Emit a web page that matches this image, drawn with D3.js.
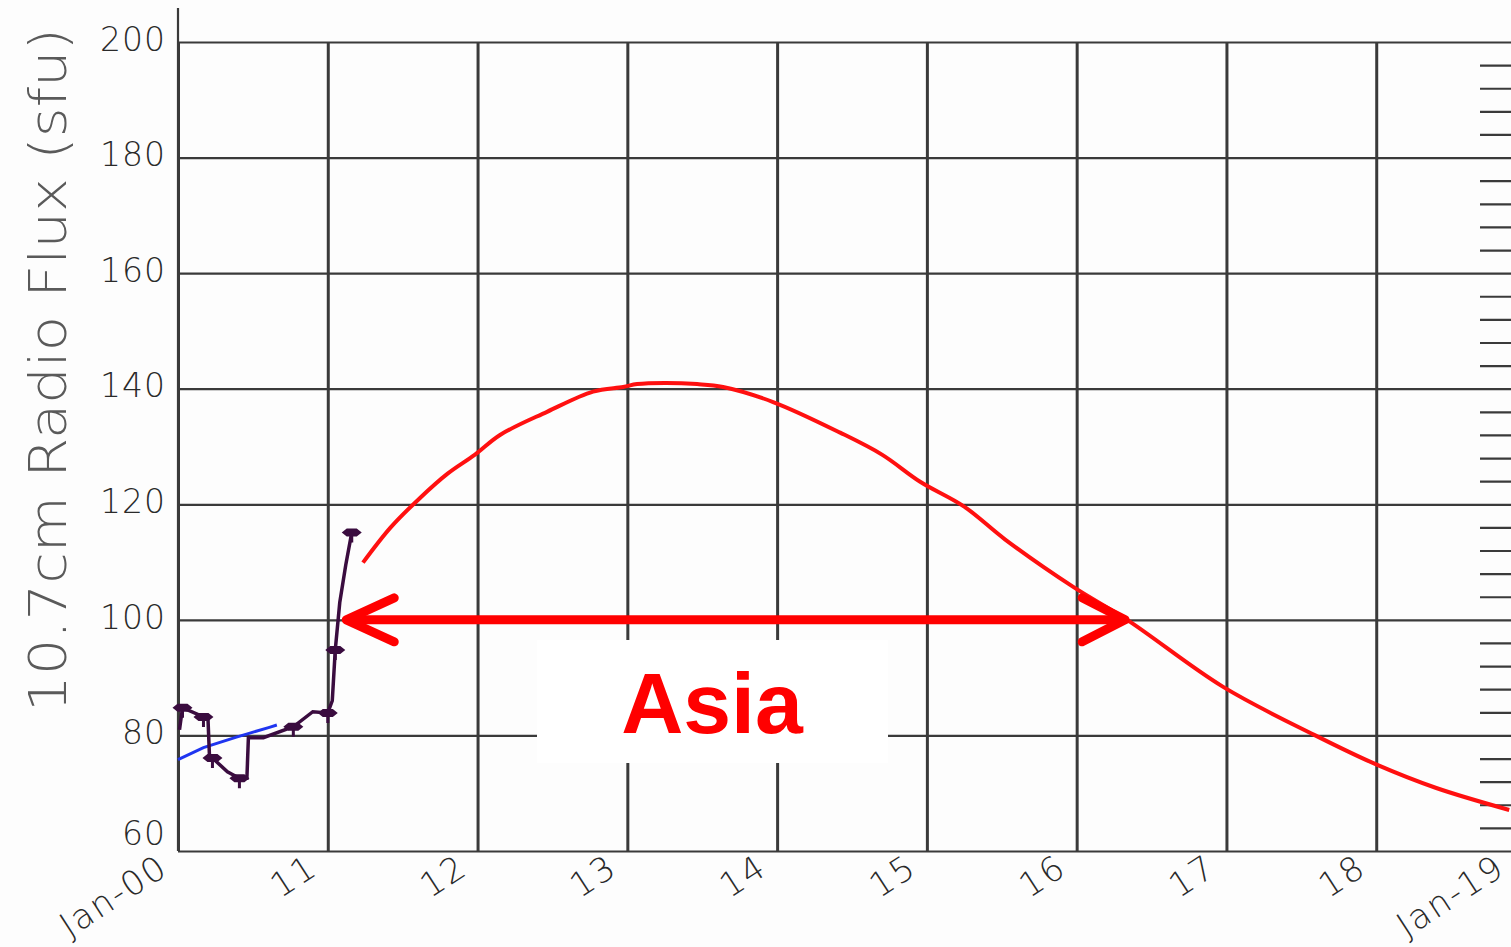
<!DOCTYPE html>
<html>
<head>
<meta charset="utf-8">
<script src="https://cdn.jsdelivr.net/npm/d3@7/dist/d3.min.js"></script>
<style>
  html, body { margin: 0; padding: 0; background: #fdfdfd; overflow: hidden; }
  svg { display: block; }
  .tick-label { font-family: "DejaVu Sans", sans-serif; font-weight: 200; fill: #2a2a2a; }
</style>
</head>
<body>
<svg id="chart" width="1511" height="947"></svg>
<script>
// ---- data ----
const dayTicks = [10, 11, 12, 13, 14, 15, 16, 17, 18, 19];
const dayLabels = ["Jan-00", "11", "12", "13", "14", "15", "16", "17", "18", "Jan-19"];
const fluxTicks = [60, 80, 100, 120, 140, 160, 180, 200];
const minorFluxTicks = [64, 68, 72, 76, 84, 88, 92, 96, 104, 108, 112, 116, 124, 128, 132, 136, 144, 148, 152, 156, 164, 168, 172, 176, 184, 188, 192, 196];

const blueDays = [10.0, 10.17, 10.39, 10.48, 10.61, 10.66];
const blueFlux = [75.8, 77.9, 79.7, 80.4, 81.4, 81.8];

const purpleDays = [10.01, 10.03, 10.17, 10.20, 10.21, 10.23, 10.33, 10.41, 10.46, 10.47, 10.57, 10.77, 10.90, 11.00, 11.03, 11.05, 11.08, 11.12, 11.16];
const purpleFlux = [81.0, 84.8, 83.2, 83.0, 76.5, 76.1, 73.7, 72.6, 72.6, 79.6, 79.6, 81.5, 84.1, 83.9, 86.0, 94.8, 103.0, 109.5, 115.1];
const purpleMarkerDays = [10.03, 10.17, 10.23, 10.41, 10.77, 11.00, 11.05, 11.16];
const purpleMarkerFlux = [84.8, 83.2, 76.1, 72.6, 81.5, 83.9, 94.8, 115.1];

const redDays = [11.235, 11.42, 11.616, 11.80, 11.983, 12.15, 12.464, 12.771, 12.972, 13.065, 13.25, 13.466, 13.639, 13.973, 14.421, 14.70, 14.955, 15.249, 15.523, 15.977, 16.337, 16.978, 17.586, 18.007, 18.401, 18.888];
const redFlux = [109.9, 116.0, 121.1, 125.3, 128.6, 132.0, 136.0, 139.5, 140.3, 140.8, 141.0, 140.8, 140.3, 137.7, 132.4, 128.6, 123.9, 119.6, 113.9, 105.7, 100.0, 88.4, 80.1, 74.9, 70.9, 67.1];

const arrowFlux = 100;
const arrowStartDay = 11.11;
const arrowEndDay = 16.337;
const annotationText = "Asia";
const yAxisTitle = "10.7cm Radio Flux (sfu)";

// ---- scales ----
const W = 1511, H = 947;
const svg = d3.select("#chart");
const x = d3.scaleLinear().domain([10, 19]).range([178, 1526]);
const y = d3.scaleLinear().domain([60, 200]).range([851, 42]);

svg.append("rect").attr("width", W).attr("height", H).attr("fill", "#fdfdfd");

// horizontal grid
const hGrid = svg.append("g").attr("transform", `translate(${x(10)},0)`)
  .call(d3.axisRight(y).tickValues(fluxTicks).tickSize(x(19) - x(10)).tickFormat(""));
hGrid.select(".domain").remove();
hGrid.selectAll(".tick line").attr("stroke", "#3a3a3a").attr("stroke-width", 2.2);

// vertical grid
const vGrid = svg.append("g").attr("transform", `translate(0,${y(200)})`)
  .call(d3.axisBottom(x).tickValues(dayTicks).tickSize(y(60) - y(200)).tickFormat(""));
vGrid.select(".domain").remove();
vGrid.selectAll(".tick line").attr("stroke", "#3a3a3a").attr("stroke-width", 3);

// left axis line (extends above top)
svg.append("line").attr("x1", x(10)).attr("x2", x(10)).attr("y1", 8).attr("y2", y(60))
  .attr("stroke", "#3a3a3a").attr("stroke-width", 2.2);

// right minor ticks
const rAxis = svg.append("g").attr("transform", `translate(${x(19)},0)`)
  .call(d3.axisLeft(y).tickValues(minorFluxTicks).tickSize(46).tickFormat(""));
rAxis.select(".domain").remove();
rAxis.selectAll(".tick line").attr("stroke", "#3a3a3a").attr("stroke-width", 2.2);

// y tick labels
const yLab = svg.append("g").attr("transform", `translate(${x(10)},0)`)
  .call(d3.axisLeft(y).tickValues(fluxTicks).tickSize(0).tickPadding(12));
yLab.select(".domain").remove();
yLab.selectAll(".tick text")
  .attr("class", "tick-label")
  .attr("font-size", 33)
  .attr("letter-spacing", 1)
  .attr("dy", d => d === 60 ? "-0.2em" : "0.25em");

// x tick labels (rotated)
const xLab = svg.append("g");
xLab.selectAll("text").data(dayTicks).join("text")
  .attr("class", "tick-label")
  .attr("font-size", 34)
  .attr("letter-spacing", 2)
  .attr("text-anchor", "end")
  .attr("transform", d => `translate(${Math.min(x(d) - 8, W - 4)},${y(60) + 22}) rotate(-33)`)
  .text((d, i) => dayLabels[i]);

// y axis title
svg.append("text")
  .attr("transform", `translate(66,${370}) rotate(-90)`)
  .attr("text-anchor", "middle")
  .attr("font-family", "DejaVu Sans, sans-serif")
  .attr("font-weight", 200)
  .attr("font-size", 52)
  .attr("fill", "#5a5a5a")
  .attr("textLength", 684)
  .attr("lengthAdjust", "spacingAndGlyphs")
  .text(yAxisTitle);

// white annotation box
svg.append("rect")
  .attr("x", 537).attr("y", 640).attr("width", 351).attr("height", 123)
  .attr("fill", "#ffffff");

// lines
const line = d3.line().x(d => x(d[0])).y(d => y(d[1]));

svg.append("path")
  .datum(blueDays.map((d, i) => [d, blueFlux[i]]))
  .attr("d", line)
  .attr("fill", "none").attr("stroke", "#1f35f0").attr("stroke-width", 3);

svg.append("path")
  .datum(purpleDays.map((d, i) => [d, purpleFlux[i]]))
  .attr("d", line)
  .attr("fill", "none").attr("stroke", "#3a0c3f").attr("stroke-width", 3.5);

svg.append("g").selectAll("path").data(purpleMarkerDays.map((d, i) => [d, purpleMarkerFlux[i]])).join("path")
  .attr("transform", d => `translate(${x(d[0])},${y(d[1])})`)
  .attr("d", "M-10,0 L-5,-4 L5,-4 L10,0 L5,4 L-5,4 Z M-1.5,0 L1.5,0 L1.5,10 L-1.5,10 Z")
  .attr("fill", "#3a0c3f");

svg.append("path")
  .datum(redDays.map((d, i) => [d, redFlux[i]]))
  .attr("d", d3.line().x(d => x(d[0])).y(d => y(d[1])).curve(d3.curveCatmullRom))
  .attr("fill", "none").attr("stroke", "#ff1010").attr("stroke-width", 4);

// double arrow
const ay = y(arrowFlux), ax1 = x(arrowStartDay), ax2 = x(arrowEndDay);
const arrow = svg.append("g").attr("stroke", "#ff0000").attr("stroke-width", 9)
  .attr("stroke-linecap", "round").attr("stroke-linejoin", "round").attr("fill", "none");
arrow.append("line").attr("x1", ax1 + 4).attr("x2", ax2 - 4).attr("y1", ay).attr("y2", ay);
arrow.append("path").attr("d", `M${ax1 + 50},${ay - 22} L${ax1 + 2},${ay} L${ax1 + 50},${ay + 22}`);
arrow.append("path").attr("d", `M${ax2 - 45},${ay - 22} L${ax2 - 2},${ay} L${ax2 - 45},${ay + 22}`);

// annotation text
svg.append("text")
  .attr("x", 712).attr("y", 733)
  .attr("text-anchor", "middle")
  .attr("font-family", "Liberation Sans, Arial, sans-serif")
  .attr("font-weight", "bold")
  .attr("font-size", 86)
  .attr("fill", "#ff0000")
  .text(annotationText);
</script>
</body>
</html>
